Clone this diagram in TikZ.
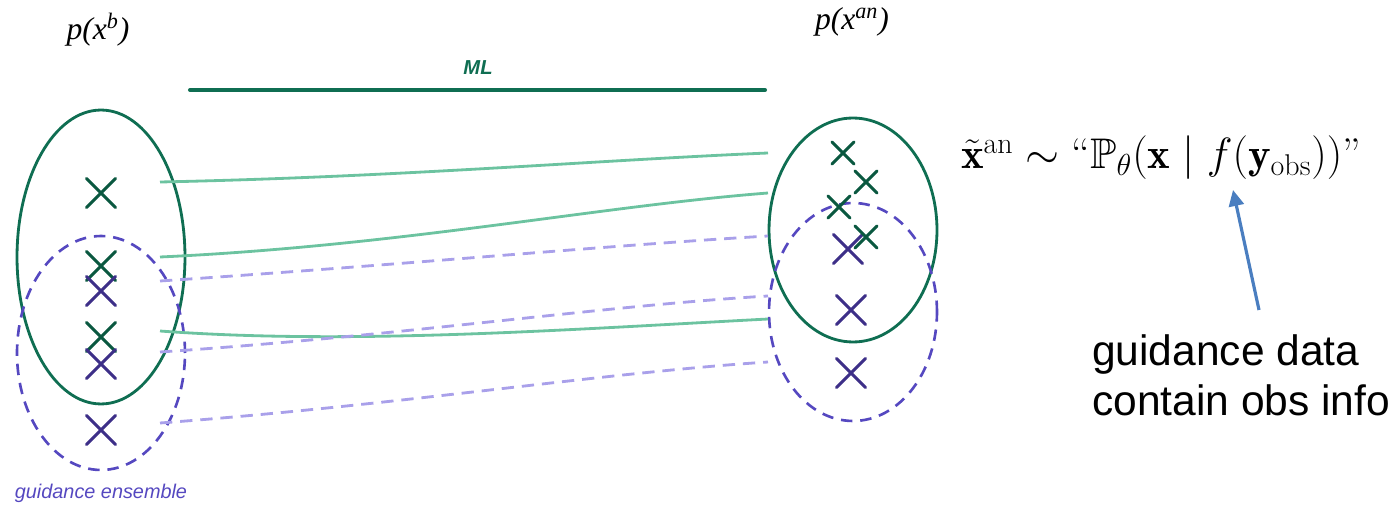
\documentclass[tikz,border=0pt]{standalone}
\usepackage{amsmath}
\usepackage{amssymb}
\usepackage{fontspec}
\usepackage{tikz}
\usetikzlibrary{arrows.meta,positioning,calc,shapes.geometric,shapes.misc}
\newfontfamily\serifit{Liberation Serif}
\newfontfamily\arialfont{Liberation Sans}
\definecolor{setgreen}{HTML}{0F6E52}
\definecolor{ptgreen}{HTML}{0A5840}
\definecolor{mapgreen}{HTML}{6CC3A0}
\definecolor{setpurple}{HTML}{5548C0}
\definecolor{ptpurple}{HTML}{3D2F88}
\definecolor{mappurple}{HTML}{A9A0EA}
\definecolor{noteblue}{HTML}{4A7EC0}
\tikzset{
  setBox/.style={ellipse, draw=setgreen, line width=1.6pt, minimum width=3.36cm, inner sep=0pt},
  guideBox/.style={ellipse, draw=setpurple, line width=1.5pt, dash pattern=on 6.5pt off 4.5pt, minimum width=3.36cm, inner sep=0pt},
  bigMark/.style={cross out, draw, line width=1.7pt, line cap=round, minimum size=0.52cm, inner sep=0pt},
  smallMark/.style={cross out, draw, line width=1.7pt, line cap=round, minimum size=0.38cm, inner sep=0pt},
  mapLine/.style={draw=mapgreen, line width=1.6pt},
  guideLine/.style={draw=mappurple, line width=1.6pt, dash pattern=on 7pt off 4.5pt},
  noteArrow/.style={-{Triangle[length=3.2mm, width=3mm]}, draw=noteblue, line width=1.8pt}
}

\begin{document}
\begin{tikzpicture}[x=0.02cm, y=-0.02cm]
  \useasboundingbox (0,0) rectangle (1395,506);
  % sets
  \node[setBox, minimum height=5.88cm] (prior) at (101,257) {};
  \node[guideBox, minimum height=4.68cm] (guide) at (101,353) {};
  \node[setBox, minimum height=4.48cm] (post) at (853,230) {};
  \node[guideBox, minimum height=4.36cm] (postGuide) at (853,312) {};
  \node[font=\serifit\fontsize{18}{20}\selectfont\itshape] (priorLbl) at (98,30) {p(x\textsuperscript{b})};
  \node[font=\serifit\fontsize{18}{20}\selectfont\itshape] (postLbl) at (852,22) {p(x\textsuperscript{an})};
  \node[font=\arialfont\fontsize{11.3}{13}\selectfont\itshape, text=setpurple] (guideLbl) at (101,493) {guidance ensemble};
  % ML
  \coordinate (mlL) at (190,90);
  \coordinate (mlR) at (765,90);
  \draw[setgreen, line width=2.3pt, line cap=round] (mlL) -- (mlR);
  \node[font=\arialfont\fontsize{11.5}{13}\selectfont\bfseries\itshape, text=setgreen] (mlLbl) at (478,68) {ML};
  % samples
  \node[bigMark, draw=ptgreen] (b1) at (101,193) {};
  \node[bigMark, draw=ptgreen] (b2) at (101,266) {};
  \node[bigMark, draw=ptgreen] (b3) at (101,337) {};
  \node[bigMark, draw=ptpurple] (g1) at (101,291) {};
  \node[bigMark, draw=ptpurple] (g2) at (101,364) {};
  \node[bigMark, draw=ptpurple] (g3) at (101,430) {};
  \node[smallMark, draw=ptgreen] (a1) at (843,153) {};
  \node[smallMark, draw=ptgreen] (a2) at (866,182) {};
  \node[smallMark, draw=ptgreen] (a3) at (839,207) {};
  \node[bigMark, draw=ptpurple] (ag1) at (848,249) {};
  \node[smallMark, draw=ptgreen] (a4) at (866,237) {};
  \node[bigMark, draw=ptpurple] (ag2) at (851,310) {};
  \node[bigMark, draw=ptpurple] (ag3) at (851,373) {};
  % mapping lines
  \coordinate (s1) at (160,182);
  \coordinate (s2) at (160,257);
  \coordinate (s3) at (160,331);
  \coordinate (t1) at (768,153);
  \coordinate (t2) at (768,193);
  \coordinate (t3) at (768,319);
  \coordinate (u1) at (160,281);
  \coordinate (u2) at (160,352);
  \coordinate (u3) at (160,423);
  \coordinate (v1) at (768,236);
  \coordinate (v2) at (768,296);
  \coordinate (v3) at (768,362);
  \draw[mapLine] (s1) .. controls (400,177) and (600,160) .. (t1);
  \draw[mapLine] (s2) .. controls (400,246) and (600,206) .. (t2);
  \draw[mapLine] (s3) .. controls (350,345) and (560,330) .. (t3);
  \draw[guideLine] (u1) .. controls (400,265) and (600,246) .. (v1);
  \draw[guideLine] (u2) .. controls (400,336) and (600,306) .. (v2);
  \draw[guideLine] (u3) .. controls (400,405) and (600,373) .. (v3);
  % guidance
  \node[font=\fontsize{24.4}{28}\selectfont] (formula) at (1161,158)
    {$\tilde{\mathbf{x}}^{\mathrm{an}} \sim \text{``}\mathbb{P}_\theta(\mathbf{x} \mid f(\mathbf{y}_{\mathrm{obs}}))\text{''}$};
  \node[font=\arialfont\fontsize{24.2}{28.5}\selectfont, align=left, anchor=west] (note) at (1086,375)
    {guidance data\\contain obs info};
  \coordinate (noteTip) at (1259,310);
  \coordinate (fy) at (1233,190);
  \draw[noteArrow] (noteTip) -- (fy);
\end{tikzpicture}
\end{document}
